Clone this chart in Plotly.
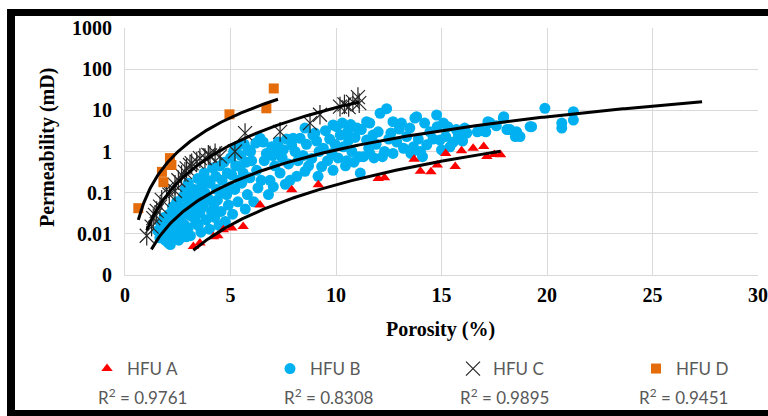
import numpy as np
import plotly.graph_objects as go

# ---------------- data (porosity %, permeability mD) ----------------
hfu_a = [(3.24, 0.0049), (3.55, 0.006), (4.19, 0.0085), (4.4, 0.009), (4.66, 0.0125),
         (5.06, 0.0138), (5.6, 0.015), (6.4, 0.05), (7.9, 0.117), (9.16, 0.155),
         (12.0, 0.22), (12.3, 0.23), (13.7, 0.65), (14.0, 0.33), (14.5, 0.32),
         (14.8, 0.47), (15.2, 0.9), (15.65, 0.43), (15.95, 1.05), (16.5, 1.2),
         (17.0, 1.32), (17.15, 0.76), (17.5, 0.85), (17.8, 0.83)]

hfu_b = [(1.55, 0.012), (1.65, 0.008), (1.7, 0.018), (1.75, 0.01), (1.8, 0.014), (1.85, 0.025),
         (1.9, 0.007), (1.95, 0.02), (2.0, 0.011),
         (2.05, 0.006), (2.1, 0.03), (2.13, 0.022), (2.15, 0.0055), (2.2, 0.016), (2.25, 0.045),
         (2.3, 0.009), (2.35, 0.032), (2.4, 0.013), (2.45, 0.06), (2.5, 0.02),
         (2.55, 0.007), (2.6, 0.046), (2.62, 0.028), (2.7, 0.011), (2.75, 0.08), (2.8, 0.017),
         (2.85, 0.12), (2.9, 0.0085), (2.92, 0.046), (2.95, 0.03), (3.0, 0.014), (3.0, 0.17),
         (3.05, 0.066), (3.1, 0.009), (3.15, 0.027), (3.2, 0.1), (3.25, 0.04), (3.3, 0.12),
         (3.35, 0.02), (3.4, 0.055), (3.45, 0.22), (3.47, 0.016), (3.5, 0.08),
         (3.55, 0.032), (3.6, 0.011), (3.65, 0.15), (3.7, 0.045), (3.75, 0.3), (3.79, 0.1),
         (3.85, 0.022), (3.87, 0.065), (3.9, 0.2), (3.95, 0.072), (4.0, 0.013),
         (4.03, 0.17), (4.1, 0.035), (4.15, 0.4), (4.2, 0.05), (4.25, 0.025), (4.3, 0.25),
         (4.34, 0.12), (4.38, 0.066), (4.45, 0.016), (4.5, 0.45),
         (4.55, 0.035), (4.6, 0.2), (4.66, 0.1), (4.7, 0.55), (4.75, 0.02), (4.82, 0.09),
         (4.85, 0.3), (4.9, 0.05), (4.98, 0.14), (5.0, 0.7),
         (5.06, 0.27), (5.1, 0.03), (5.15, 1.0), (5.2, 0.12), (5.25, 0.45), (5.3, 1.3),
         (5.35, 0.06), (5.4, 0.2), (5.45, 0.43), (5.5, 0.8), (5.53, 0.17),
         (5.6, 0.3), (5.65, 1.5), (5.7, 0.04), (5.75, 0.55), (5.8, 0.09), (5.85, 1.1),
         (5.92, 0.23), (5.95, 1.0), (6.0, 0.6),
         (6.1, 0.06), (6.2, 1.6), (6.24, 0.35), (6.3, 0.13), (6.4, 2.1), (6.45, 0.2),
         (6.55, 1.7), (6.6, 0.6), (6.7, 0.9), (6.8, 0.09), (6.87, 0.2), (6.95, 1.3), (7.0, 0.8),
         (7.03, 0.14), (7.1, 0.45), (7.2, 1.1), (7.26, 1.7), (7.35, 0.3), (7.45, 0.7),
         (7.5, 1.1), (7.6, 0.16), (7.66, 2.0), (7.75, 0.5), (7.82, 0.2), (7.9, 1.4), (7.97, 2.1),
         (8.06, 1.0), (8.14, 0.25), (8.2, 0.6), (8.3, 2.1), (8.44, 0.8), (8.53, 0.33),
         (8.53, 3.7), (8.6, 1.5), (8.7, 0.45), (8.85, 0.68), (8.9, 2.5), (9.0, 2.8),
         (9.08, 1.8), (9.15, 0.25), (9.2, 1.0), (9.32, 0.43), (9.4, 1.2), (9.5, 3.2),
         (9.6, 0.6), (9.7, 2.0), (9.8, 0.9), (9.86, 0.35), (9.86, 4.4), (9.95, 1.5),
         (10.03, 4.0), (10.1, 0.7), (10.2, 2.5), (10.3, 4.9), (10.35, 1.3), (10.45, 0.45),
         (10.5, 0.6), (10.55, 3.0), (10.6, 1.9), (10.7, 4.5), (10.75, 1.0), (10.85, 0.55),
         (10.9, 2.2), (11.0, 3.7),
         (11.1, 0.75), (11.15, 0.3), (11.2, 3.4), (11.3, 0.75), (11.45, 1.9), (11.45, 5.3),
         (11.55, 1.2), (11.6, 0.9), (11.6, 4.9), (11.75, 2.5), (11.8, 0.7), (11.9, 1.5),
         (12.0, 3.0),
         (12.09, 8.5), (12.2, 0.75), (12.3, 1.0), (12.4, 11.0), (12.5, 2.0), (12.6, 2.8),
         (12.7, 0.9), (12.7, 5.3), (12.88, 1.7), (13.0, 3.5),
         (13.1, 4.9), (13.2, 1.2), (13.35, 2.3), (13.5, 3.7), (13.55, 0.9), (13.67, 1.3),
         (13.74, 6.5), (13.82, 7.0), (13.9, 2.0), (14.0, 1.0),
         (14.1, 0.75), (14.2, 4.9), (14.3, 1.45), (14.45, 3.0), (14.6, 2.0), (14.77, 7.7),
         (14.8, 4.0), (14.93, 1.9), (15.0, 1.1),
         (15.09, 4.9), (15.2, 2.3), (15.3, 4.0), (15.4, 1.3), (15.56, 1.7), (15.7, 3.4),
         (15.8, 2.5), (16.0, 1.8),
         (16.1, 3.7), (16.2, 2.8), (16.7, 3.0), (16.9, 3.2),
         (17.1, 3.0), (17.2, 5.3), (17.3, 5.0), (17.6, 4.2), (17.93, 6.4), (17.95, 7.0),
         (18.1, 3.4), (18.25, 3.4), (18.5, 2.3), (18.56, 3.0), (18.72, 2.3),
         (19.2, 4.0), (19.27, 4.0), (19.9, 11.2), (20.7, 4.9), (20.7, 3.7), (21.25, 9.3),
         (21.25, 5.8)]

hfu_c = [(1.03, 0.009), (1.26, 0.015), (1.34, 0.024), (1.42, 0.029), (1.5, 0.036),
         (1.66, 0.046), (1.74, 0.067), (1.97, 0.12), (2.1, 0.09), (2.37, 0.11),
         (2.37, 0.155), (2.53, 0.2), (2.68, 0.27), (2.84, 0.32), (2.92, 0.39),
         (3.08, 0.47), (3.16, 0.52), (3.4, 0.57), (3.55, 0.69), (3.79, 0.69),
         (3.95, 0.83), (4.03, 0.8), (4.27, 0.91), (4.5, 0.76), (5.21, 1.0),
         (5.69, 2.8), (7.35, 3.0), (8.77, 4.9), (9.24, 7.8), (10.19, 12.3),
         (10.4, 14.0), (10.6, 12.0), (10.8, 16.0), (11.04, 21.0), (11.1, 15.0)]

hfu_d = [(0.63, 0.042), (1.75, 0.32), (1.82, 0.18), (2.13, 0.69), (2.2, 0.47),
         (4.95, 8.0), (6.7, 11.2), (7.05, 34.0)]

series_names = ["HFU A", "HFU B", "HFU C", "HFU D"]
r2_labels = ["0.9761", "0.8308", "0.9895", "0.9451"]
# trendline forecast (backward, forward) in porosity units, as set on the chart
forecast = {"HFU A": (0, 0), "HFU B": (0.3, 6.1), "HFU C": (0, 0), "HFU D": (0, 0.2)}

y_tickvals = [0.001, 0.01, 0.1, 1, 10, 100, 1000]
y_ticktext = ["0", "0.01", "0.1", "1", "10", "100", "1000"]
x_tickvals = [0, 5, 10, 15, 20, 25, 30]

# ---------------- layout geometry (pixels) ----------------
W, H = 768, 416
ML, MR, MT, MB = 125, 10, 28, 141
PW, PH = W - ML - MR, H - MT - MB


def pxx(p):
    return (p - ML) / PW


def pxy(p):
    return (H - MB - p) / PH


def power_fit(pts, back, fwd):
    x = np.array([p[0] for p in pts])
    y = np.array([p[1] for p in pts])
    b, lna = np.polyfit(np.log(x), np.log(y), 1)
    xs = np.linspace(x.min() - back, x.max() + fwd, 300)
    return xs, np.exp(lna) * xs ** b


fig = go.Figure()

styles = {
    "HFU A": dict(symbol="triangle-up", size=10, color="#FF0000"),
    "HFU B": dict(symbol="circle", size=11, color="#00B0F0"),
    "HFU D": dict(symbol="square", size=10, color="#E46C0A"),
}
data = {"HFU A": hfu_a, "HFU B": hfu_b, "HFU C": hfu_c, "HFU D": hfu_d}
rank = {"HFU A": 1, "HFU B": 2, "HFU C": 3, "HFU D": 4}

for name in ["HFU B", "HFU A"]:
    pts = data[name]
    fig.add_trace(go.Scatter(
        x=[p[0] for p in pts], y=[p[1] for p in pts], mode="markers", name=name,
        legendrank=rank[name], marker=dict(**styles[name], line=dict(width=0))))

cx = [p[0] for p in hfu_c]
cy = [p[1] for p in hfu_c]
star_col = "#262626"
fig.add_trace(go.Scatter(x=cx, y=cy, mode="markers", name="HFU C", legendrank=3,
                         marker=dict(symbol="x-thin-open", size=14, color=star_col,
                                     line=dict(color=star_col, width=1.2))))
fig.add_trace(go.Scatter(x=cx, y=cy, mode="markers", showlegend=False, hoverinfo="skip",
                         marker=dict(symbol="line-ns-open", size=14, color=star_col,
                                     line=dict(color=star_col, width=1.2))))

fig.add_trace(go.Scatter(
    x=[p[0] for p in hfu_d], y=[p[1] for p in hfu_d], mode="markers", name="HFU D",
    legendrank=4, marker=dict(**styles["HFU D"], line=dict(width=0))))

for name in series_names:
    back, fwd = forecast[name]
    xs, ys = power_fit(data[name], back, fwd)
    fig.add_trace(go.Scatter(x=xs, y=ys, mode="lines", showlegend=False, hoverinfo="skip",
                             line=dict(color="black", width=3)))

grid = "#d9d9d9"
tickfont = dict(family="Liberation Serif", size=20, color="black", weight="bold")
fig.update_xaxes(range=[0, 30], tickvals=x_tickvals, showgrid=True, gridcolor=grid,
                 gridwidth=1, zeroline=False, showline=True, linecolor=grid, mirror=False,
                 ticks="outside", ticklen=2, tickcolor="rgba(0,0,0,0)", tickfont=tickfont)
fig.update_yaxes(type="log", range=[-3, 3], tickvals=y_tickvals, ticktext=y_ticktext,
                 showgrid=True, gridcolor=grid, gridwidth=1, zeroline=False, showline=True,
                 linecolor=grid, ticks="outside", ticklen=8, tickcolor="rgba(0,0,0,0)",
                 tickfont=tickfont)

annotations = [
    dict(text="Porosity (%)", x=pxx(440), y=pxy(329), xref="paper", yref="paper",
         showarrow=False, xanchor="center", yanchor="middle",
         font=dict(family="Liberation Serif", size=20, color="black", weight="bold")),
    dict(text="Permeability (mD)", x=pxx(47), y=pxy(148), xref="paper", yref="paper",
         showarrow=False, xanchor="center", yanchor="middle", textangle=-90,
         font=dict(family="Liberation Serif", size=20, color="black", weight="bold")),
]
r2_x = [142, 329, 504, 683]
for xc, r2 in zip(r2_x, r2_labels):
    annotations.append(dict(text="R<sup>2</sup> = " + r2, x=pxx(xc), y=pxy(396),
                            xref="paper", yref="paper", showarrow=False,
                            xanchor="center", yanchor="middle",
                            font=dict(family="Lato", size=17, color="#595959")))

frame = "black"
shapes = [
    dict(type="rect", xref="paper", yref="paper", x0=pxx(7), x1=pxx(W + 10),
         y0=pxy(9), y1=pxy(16), fillcolor=frame, line=dict(width=0), layer="above"),
    dict(type="rect", xref="paper", yref="paper", x0=pxx(7), x1=pxx(15),
         y0=pxy(9), y1=pxy(H + 10), fillcolor=frame, line=dict(width=0), layer="above"),
    dict(type="rect", xref="paper", yref="paper", x0=pxx(7), x1=pxx(W + 10),
         y0=pxy(410), y1=pxy(H + 10), fillcolor=frame, line=dict(width=0), layer="above"),
]

fig.update_layout(
    width=W, height=H, margin=dict(l=ML, r=MR, t=MT, b=MB, autoexpand=False),
    paper_bgcolor="white", plot_bgcolor="white",
    showlegend=True,
    legend=dict(orientation="h", x=pxx(87), y=pxy(369), xanchor="left", yanchor="middle",
                entrywidth=138, entrywidthmode="pixels", traceorder="normal",
                font=dict(family="Lato", size=17, color="#595959"),
                bgcolor="rgba(0,0,0,0)"),
    annotations=annotations, shapes=shapes,
)

fig.write_html("out.html")
